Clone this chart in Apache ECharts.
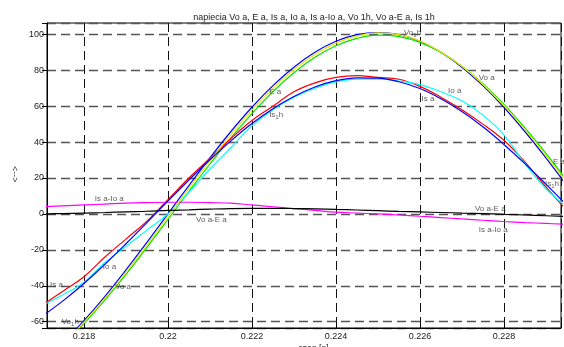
<!DOCTYPE html>
<html>
<head>
<meta charset="utf-8">
<script src="https://cdn.jsdelivr.net/npm/echarts@6/dist/echarts.min.js"></script>
<style>
  html, body { margin: 0; padding: 0; background: #fff; }
  #chart { width: 564px; height: 347px; }
</style>
</head>
<body>
<div id="chart"></div>
<script>
// time samples [s]
const time = [0.2170, 0.2175, 0.2180, 0.2185, 0.2190, 0.2195, 0.2200, 0.2205, 0.2210, 0.2215,
  0.2220, 0.2225, 0.2230, 0.2235, 0.2240, 0.2245, 0.2250, 0.2255, 0.2260, 0.2265,
  0.2270, 0.2275, 0.2280, 0.2285, 0.2290, 0.2295];

// napiecia / prady
const voA = [-81.7, -71.4, -59.4, -45.9, -31.2, -15.8, 0, 15.8, 31.2, 45.9,
  59.4, 71.4, 81.7, 90.0, 96.1, 99.8, 101, 99.8, 96.1, 90.0,
  81.7, 71.4, 59.4, 45.9, 31.2, 15.8];
const eA = [-82.3, -72.5, -61.0, -47.9, -33.7, -18.6, -3.1, 12.5, 27.8, 42.4,
  55.9, 68.1, 78.6, 87.2, 93.6, 97.7, 99.5, 98.7, 95.5, 90.0,
  82.3, 72.5, 61.0, 47.9, 33.7, 18.6];
const isA = [-51, -43, -35, -24, -14, -4, 8, 20, 31, 42,
  52, 60, 68, 73, 76, 77, 76, 75, 71, 65,
  58, 50, 41, 29, 15, 2];
const ioA = [-51, -45, -38, -27, -18, -9, 0, 12, 25, 37,
  49, 58, 65, 70, 73.5, 75, 75, 74, 72, 68,
  63, 55, 44, 28, 14, 4];
const isMinusIo = [4, 4.5, 5, 5.5, 6, 6.3, 6.5, 6.5, 6.3, 6,
  5, 4, 3, 2, 1, 0.5, 0, -0.6, -1.3, -2,
  -2.8, -3.5, -4.2, -4.8, -5.3, -5.8];
const vo1h = [-82.2, -72.2, -60.3, -47.0, -32.6, -17.3, -1.6, 14.2, 29.5, 44.2,
  57.8, 69.9, 80.4, 88.8, 95.1, 99.0, 100.8, 99.8, 96.3, 90.2,
  82.2, 72.2, 60.3, 47.0, 32.6, 17.3];
const voMinusE = [0, 0.2, 0.5, 0.8, 1.2, 1.5, 2, 2.3, 2.7, 3,
  3.1, 3.1, 3, 2.8, 2.5, 2.2, 1.8, 1.4, 1.1, 0.8,
  0.5, 0.2, -0.2, -0.6, -1, -1.5];
const is1h = [-57, -48.4, -38.7, -28, -16.6, -4.8, 7.2, 18.9, 30.2, 40.7,
  50.3, 58.6, 65.4, 70.7, 74.2, 75.8, 75.6, 73.6, 69.8, 64.1,
  57, 48.5, 38.7, 28, 16.6, 4.8];

// gtext labels placed on the plot
const noteText = ['Vo{s|1}h', 'Vo a', 'E a', 'Is{s|1}h', 'Is a', 'Io a', 'E a', 'Is{s|1}h',
  'Is a-Io a', 'Vo a-E a', 'Vo a-E a', 'Is a-Io a', 'Io a', 'Is a', 'Vo a', 'Vo{s|1}h'];
const noteT = [0.22562, 0.22740, 0.22241, 0.22241, 0.22604, 0.22667, 0.22917, 0.22898,
  0.21826, 0.22067, 0.22731, 0.22740, 0.21845, 0.21719, 0.21874, 0.21747];
const noteV = [100.9, 76, 68, 55, 64, 68.4, 29, 17,
  8.7, -3.4, 3.1, -9, -29.4, -39.6, -40.5, -60];

const font = '"Liberation Sans", Arial, Helvetica, sans-serif';

function pairs(arr) {
  return time.map((t, i) => [t, arr[i]]);
}

function line(name, arr, color) {
  return {
    name: name,
    type: 'line',
    data: pairs(arr),
    smooth: 0.4,
    showSymbol: false,
    symbol: 'none',
    lineStyle: { color: color, width: 1.2 },
    z: 3
  };
}

const chart = echarts.init(document.getElementById('chart'), null, { renderer: 'canvas' });

const option = {
  backgroundColor: '#fff',
  animation: false,
  textStyle: { fontFamily: font },
  title: {
    text: 'napiecia Vo a, E a, Is a, Io a, Is a-Io a, Vo 1h, Vo a-E a, Is 1h',
    left: 309,
    top: 8,
    textAlign: 'center',
    textStyle: { fontSize: 9, fontWeight: 'normal', color: '#222', fontFamily: font }
  },
  grid: {
    left: 47,
    top: 23,
    right: -2,
    bottom: 19,
    show: true,
    borderColor: '#000',
    borderWidth: 1
  },
  xAxis: {
    type: 'value',
    min: 0.21712,
    max: 0.22936,
    splitNumber: 6,
    minInterval: 0.002,
    maxInterval: 0.002,
    axisLine: { show: true, onZero: false, lineStyle: { color: '#000', width: 1 } },
    axisTick: { show: true, inside: true, length: 4, lineStyle: { color: '#000' } },
    axisLabel: {
      color: '#222', fontSize: 9, margin: 4, fontFamily: font,
      formatter: v => {
        const k = Math.round(v / 0.002);
        return Math.abs(v - k * 0.002) < 1e-7 ? String(+(k * 0.002).toFixed(3)) : '';
      }
    },
    splitLine: { show: true, lineStyle: { color: '#111', width: 1, type: [9, 5] } }
  },
  yAxis: {
    type: 'value',
    min: -63.5,
    max: 106.3,
    splitNumber: 8,
    minInterval: 20,
    maxInterval: 20,
    axisLine: { show: true, onZero: false, lineStyle: { color: '#000', width: 1 } },
    axisTick: { show: true, length: 5, lineStyle: { color: '#000' } },
    axisLabel: {
      color: '#222', fontSize: 9, margin: 3, fontFamily: font,
      formatter: v => (Math.abs(v / 20 - Math.round(v / 20)) < 1e-6 ? String(Math.round(v)) : '')
    },
    splitLine: { show: true, lineStyle: { color: '#555', width: 1.3, type: [9, 5] } }
  },
  series: [
    line('Vo a', voA, '#0000ff'),
    line('E a', eA, '#00e000'),
    line('Is a', isA, '#ff0000'),
    line('Io a', ioA, '#00ffff'),
    line('Is a-Io a', isMinusIo, '#ff00ff'),
    line('Vo 1h', vo1h, '#e8e800'),
    line('Vo a-E a', voMinusE, '#000000'),
    line('Is 1h', is1h, '#0000ff'),
    {
      name: 'labels',
      type: 'scatter',
      symbolSize: 0,
      silent: true,
      clip: false,
      z: 5,
      data: noteT.map((t, i) => [t, noteV[i], noteText[i]]),
      label: {
        show: true,
        position: [0, 0],
        align: 'left',
        verticalAlign: 'middle',
        fontSize: 8,
        color: '#333',
        fontFamily: font,
        formatter: p => p.value[2],
        rich: {
          s: { fontSize: 6, padding: [5, 0, 0, 0], color: '#333', fontFamily: font }
        }
      }
    }
  ],
  graphic: [
    {
      type: 'text',
      left: 10,
      top: 166,
      rotation: -Math.PI / 2,
      style: { text: '<-->', fill: '#333', font: '9px ' + font }
    },
    {
      type: 'text',
      left: 298,
      top: 344,
      style: { text: 'czas [s]', fill: '#333', font: '9px ' + font }
    }
  ]
};

chart.setOption(option);
</script>
</body>
</html>
